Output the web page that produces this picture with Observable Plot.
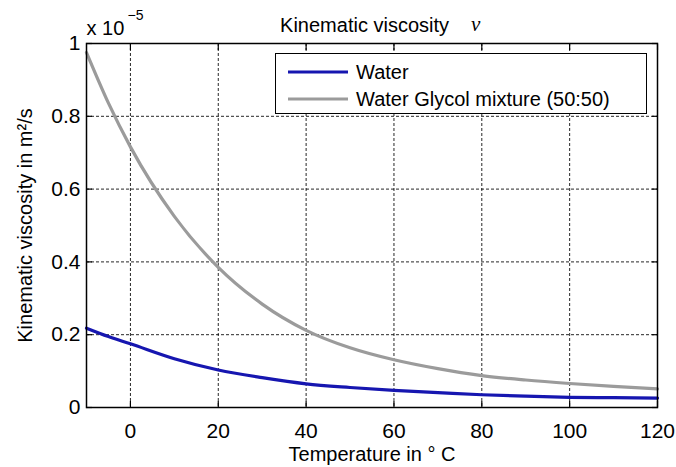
<!DOCTYPE html>
<html>
<head>
<meta charset="utf-8">
<script src="https://cdn.jsdelivr.net/npm/d3@7"></script>
<script src="https://cdn.jsdelivr.net/npm/@observablehq/plot@0.6"></script>
<style>
  html, body { margin: 0; padding: 0; background: #fff; }
  #chart { position: relative; width: 676px; height: 467px; font-family: "Liberation Sans", Arial, sans-serif; }
  #legend {
    position: absolute; left: 275px; top: 53px; width: 370px; height: 59px;
    border: 1.5px solid #000; background: #fff; box-sizing: content-box;
    font-size: 20px; color: #000;
  }
  #legend .row { position: absolute; left: 0; height: 24px; display: flex; align-items: center; }
  #legend svg { margin-left: 12px; margin-right: 8px; }
</style>
</head>
<body>
<div id="chart"></div>
<script>
// Temperature in °C
const temperature = [-10, -5, 0, 10, 20, 30, 40, 50, 60, 70, 80, 90, 100, 110, 120];
// Kinematic viscosity in units of 1e-5 m²/s
const waterNu  = [0.218, 0.195, 0.175, 0.134, 0.103, 0.082, 0.065, 0.055, 0.047, 0.041, 0.035, 0.031, 0.028, 0.027, 0.026];
const glycolNu = [0.975, 0.836, 0.716, 0.525, 0.385, 0.284, 0.212, 0.164, 0.131, 0.1066, 0.0877, 0.0755, 0.066, 0.058, 0.051];

const seriesNames = ["Water", "Water Glycol mixture (50:50)"];
const seriesColors = ["#1616b0", "#9b9b9b"];

const xTicks = [0, 20, 40, 60, 80, 100, 120];
const yTicks = [0, 0.2, 0.4, 0.6, 0.8, 1];

const rows = [];
temperature.forEach((t, i) => {
  rows.push({series: seriesNames[0], t, nu: waterNu[i]});
  rows.push({series: seriesNames[1], t, nu: glycolNu[i]});
});

const gridStyle = {stroke: "#000", strokeOpacity: 0.85, strokeWidth: 1, strokeDasharray: "3,2"};
const label = {lineAnchor: "middle", fontSize: 20};

const plot = Plot.plot({
  width: 676,
  height: 467,
  marginLeft: 86,
  marginRight: 19,
  marginTop: 43,
  marginBottom: 60,
  style: {fontFamily: "Liberation Sans, Arial, sans-serif", fontSize: "20px", color: "#000", background: "#fff"},
  x: {domain: [-10, 120], label: null},
  y: {domain: [0, 1], label: null},
  color: {domain: seriesNames, range: seriesColors},
  marks: [
    Plot.gridX(xTicks, gridStyle),
    Plot.gridY(yTicks, gridStyle),
    // tick marks pointing into the axes box, on all four sides
    Plot.axisX(xTicks, {anchor: "bottom", tickSize: -6, tickFormat: () => "", strokeWidth: 1.2}),
    Plot.axisX(xTicks, {anchor: "top", tickSize: -6, tickFormat: () => "", strokeWidth: 1.2}),
    Plot.axisY(yTicks, {anchor: "left", tickSize: -6, tickFormat: () => "", strokeWidth: 1.2}),
    Plot.axisY(yTicks, {anchor: "right", tickSize: -6, tickFormat: () => "", strokeWidth: 1.2}),
    // tick labels
    Plot.axisX(xTicks, {anchor: "bottom", tickSize: 0, tickPadding: 16, tickFormat: d => String(d), fontSize: 21}),
    Plot.axisY(yTicks, {anchor: "left", tickSize: 0, tickPadding: 6, tickFormat: d => String(d), fontSize: 21}),
    Plot.line(rows, {x: "t", y: "nu", z: "series", stroke: "series", strokeWidth: 3.2, curve: "monotone-x"}),
    Plot.frame({stroke: "#000", strokeWidth: 1.5}),
    // titles and axis labels
    Plot.text(["Kinematic viscosity"], {...label, frameAnchor: "top", dy: -18, dx: 77, textAnchor: "end"}),
    Plot.text(["\u03bd"], {...label, frameAnchor: "top", dy: -19, dx: 99, textAnchor: "start", fontSize: 21, fontStyle: "italic", fontFamily: "Liberation Serif, Times New Roman, serif"}),
    Plot.text(["x 10"], {...label, frameAnchor: "top-left", dy: -15, dx: 0, textAnchor: "start"}),
    Plot.text(["\u22125"], {...label, frameAnchor: "top-left", dy: -28, dx: 41, textAnchor: "start", fontSize: 14}),
    Plot.text(["Temperature in \u00b0 C"], {...label, frameAnchor: "bottom", dy: 47, textAnchor: "middle"}),
    Plot.text(["Kinematic viscosity in m\u00b2/s"], {...label, frameAnchor: "left", dx: -61, rotate: -90, textAnchor: "middle"})
  ]
});

const chart = document.getElementById("chart");
chart.appendChild(plot);

// legend box drawn over the upper-right of the axes
const legend = document.createElement("div");
legend.id = "legend";
seriesNames.forEach((name, i) => {
  const row = document.createElement("div");
  row.className = "row";
  row.style.top = (i === 0 ? 6 : 33) + "px";
  row.innerHTML = `<svg width="60" height="6"><line x1="0" x2="60" y1="3" y2="3" stroke="${seriesColors[i]}" stroke-width="3.2"/></svg><span>${name}</span>`;
  legend.appendChild(row);
});
chart.appendChild(legend);
</script>
</body>
</html>
